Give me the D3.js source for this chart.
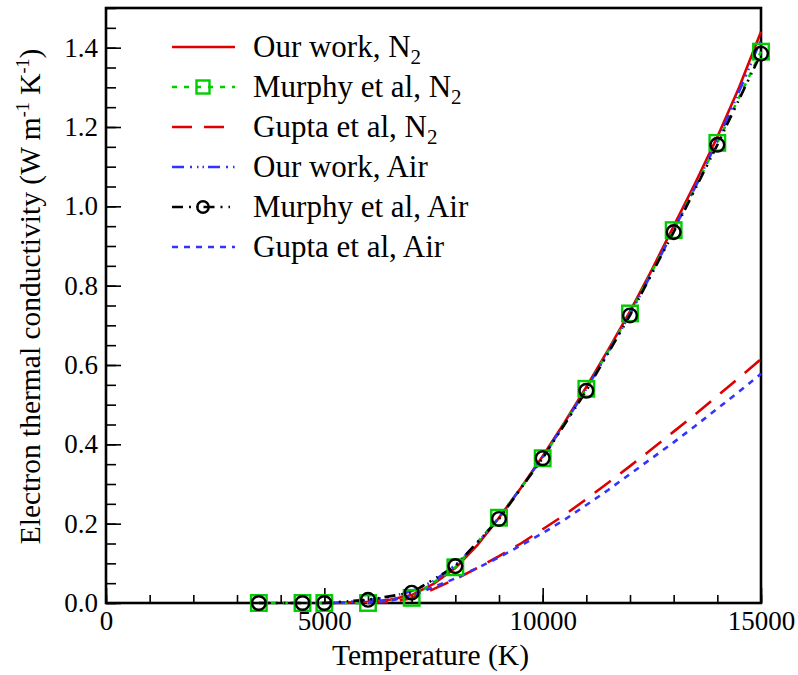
<!DOCTYPE html>
<html>
<head>
<meta charset="utf-8">
<script src="https://cdn.jsdelivr.net/npm/d3@7"></script>
<style>
  body { margin: 0; background: #fff; }
  svg text { font-family: 'Liberation Serif', 'Times New Roman', serif; fill: #000; }
</style>
</head>
<body>
<div id="my_dataviz"></div>
<script>
// temperatures (K)
var tMurphy = [3500, 4500, 5000, 6000, 7000, 8000, 9000, 10000, 11000, 12000, 13000, 14000, 15000];
var murphyN2  = [0, 0, 0, 0, 0.013, 0.09, 0.215, 0.365, 0.54, 0.73, 0.94, 1.16, 1.39];
var murphyAir = [0, 0, 0, 0.008, 0.026, 0.093, 0.212, 0.365, 0.535, 0.725, 0.935, 1.155, 1.385];

var tOur = [5200, 5500, 6000, 6500, 7000, 7500, 8000, 8500, 9000, 9500, 10000, 10500, 11000, 11500, 12000, 12500, 13000, 13500, 14000, 14500, 15000];
var ourN2  = [0, 0.001, 0.003, 0.008, 0.02, 0.048, 0.088, 0.145, 0.215, 0.29, 0.37, 0.455, 0.545, 0.638, 0.735, 0.84, 0.95, 1.06, 1.175, 1.3, 1.44];
var ourAir = [0, 0.002, 0.007, 0.015, 0.03, 0.055, 0.095, 0.15, 0.215, 0.29, 0.368, 0.452, 0.54, 0.632, 0.728, 0.832, 0.94, 1.05, 1.165, 1.29, 1.42];

var tGupta = [6000, 6500, 7000, 7500, 8000, 8500, 9000, 9500, 10000, 10500, 11000, 11500, 12000, 12500, 13000, 13500, 14000, 14500, 15000];
var guptaN2  = [0, 0.002, 0.012, 0.035, 0.06, 0.088, 0.118, 0.15, 0.186, 0.222, 0.262, 0.303, 0.345, 0.388, 0.432, 0.476, 0.522, 0.568, 0.615];
var guptaAir = [0.002, 0.006, 0.018, 0.04, 0.062, 0.088, 0.115, 0.145, 0.176, 0.21, 0.247, 0.285, 0.325, 0.365, 0.405, 0.447, 0.49, 0.533, 0.578];

var xMajor = [0, 5000, 10000, 15000];
var yMajor = [0, 0.2, 0.4, 0.6, 0.8, 1.0, 1.2, 1.4];

var margin = { top: 8, right: 37, bottom: 72, left: 106 },
    width = 798 - margin.left - margin.right,
    height = 675 - margin.top - margin.bottom;

var svg = d3.select("#my_dataviz")
    .append("svg")
        .attr("width", 798)
        .attr("height", 675)
    .append("g")
        .attr("transform", "translate(" + margin.left + "," + margin.top + ")");

var x = d3.scaleLinear().domain([0, 15000]).range([0, width]),
    y = d3.scaleLinear().domain([0, 1.5]).range([height, 0]);

// minor ticks
svg.append("g")
    .attr("transform", "translate(0," + height + ")")
    .call(d3.axisBottom(x).tickValues(d3.range(0, 15001, 1000)).tickSize(-8).tickFormat(""));
svg.append("g")
    .call(d3.axisLeft(y).tickValues(d3.range(0, 1.501, 0.05)).tickSize(-10).tickFormat(""));

// major ticks + labels
svg.append("g")
    .attr("transform", "translate(0," + height + ")")
    .call(d3.axisBottom(x).tickValues(xMajor).tickSize(-15).tickPadding(8).tickFormat(d3.format("d")));
svg.append("g")
    .call(d3.axisLeft(y).tickValues(yMajor).tickSize(-15).tickPadding(8).tickFormat(d3.format(".1f")));

svg.selectAll(".domain").remove();
svg.selectAll("g").attr("font-family", null);
svg.selectAll(".tick line").attr("stroke", "#000").attr("stroke-width", 1.6);
svg.selectAll(".tick text").style("font-size", "27px");

// frame
svg.append("rect")
    .attr("width", width).attr("height", height)
    .attr("fill", "none").attr("stroke", "#000").attr("stroke-width", 2.6);

var line = d3.line().x(function(d) { return x(d[0]); }).y(function(d) { return y(d[1]); });
function pairs(t, v) { return t.map(function(d, i) { return [d, v[i]]; }); }

var series = [
    { name: "Our work, N", sub: "2", t: tOur, v: ourN2, color: "#dd0000", dash: null },
    { name: "Murphy et al, N", sub: "2", t: tMurphy, v: murphyN2, color: "#00cc00", dash: "5,7", marker: "square" },
    { name: "Gupta et al, N", sub: "2", t: tGupta, v: guptaN2, color: "#dd0000", dash: "20,12" },
    { name: "Our work, Air", t: tOur, v: ourAir, color: "#3333ff", dash: "12,6,2,5,1.5,4,1.5,4" },
    { name: "Murphy et al, Air", t: tMurphy, v: murphyAir, color: "#000000", dash: "11,6,2,6,1.5,5", marker: "circle" },
    { name: "Gupta et al, Air", t: tGupta, v: guptaAir, color: "#3333ff", dash: "6,6" }
];

series.forEach(function(s) {
    svg.append("path")
        .datum(pairs(s.t, s.v))
        .attr("fill", "none")
        .attr("stroke", s.color)
        .attr("stroke-width", 2.6)
        .attr("stroke-dasharray", s.dash)
        .attr("d", line);
});

function drawMarker(g, type, cx, cy, size) {
    if (type == "square") {
        g.append("rect").attr("x", cx - size / 2).attr("y", cy - size / 2).attr("width", size).attr("height", size)
            .attr("fill", "none").attr("stroke", "#00cc00").attr("stroke-width", 2.4);
    } else {
        g.append("circle").attr("cx", cx).attr("cy", cy).attr("r", size * 0.44)
            .attr("fill", "none").attr("stroke", "#000").attr("stroke-width", 2.4);
    }
}

series.filter(function(s) { return s.marker; }).forEach(function(s) {
    var g = svg.append("g");
    s.t.forEach(function(t, i) { drawMarker(g, s.marker, x(t), y(s.v[i]), 15.5); });
});

// legend
var legend = svg.append("g").attr("transform", "translate(66,39)");
series.forEach(function(s, i) {
    var row = legend.append("g").attr("transform", "translate(0," + (i * 40) + ")");
    row.append("line")
        .attr("x1", 0).attr("x2", 63).attr("y1", 0).attr("y2", 0)
        .attr("stroke", s.color).attr("stroke-width", 2.6)
        .attr("stroke-dasharray", s.dash);
    if (s.marker) drawMarker(row, s.marker, 31, 0, 13);
    var txt = row.append("text").attr("x", 81).attr("y", 10).style("font-size", "31px").text(s.name);
    if (s.sub) txt.append("tspan").attr("dy", 7).style("font-size", "21px").text(s.sub);
});

// axis titles
svg.append("text")
    .attr("x", width / 2 - 3).attr("y", height + 62)
    .style("text-anchor", "middle").style("font-size", "29.5px")
    .text("Temperature (K)");

var yt = svg.append("text")
    .attr("transform", "rotate(-90)")
    .attr("x", -height / 2 + 9).attr("y", -66)
    .style("text-anchor", "middle").style("font-size", "29.5px");
yt.append("tspan").text("Electron thermal conductivity (W m");
yt.append("tspan").attr("dy", -11).style("font-size", "18px").text("-1");
yt.append("tspan").attr("dy", 11).text(" K");
yt.append("tspan").attr("dy", -11).style("font-size", "18px").text("-1");
yt.append("tspan").attr("dy", 11).text(")");
</script>
</body>
</html>
